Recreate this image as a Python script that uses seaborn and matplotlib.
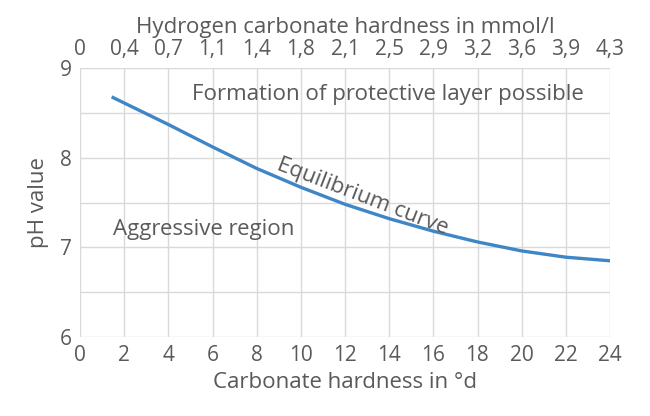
import numpy as np
import pandas as pd
import seaborn as sns
import matplotlib.pyplot as plt

plt.rcParams['font.family'] = 'Open Sans'

# data
kh_deg = [1.5, 4, 6, 8, 10, 12, 14, 16, 18, 20, 22, 24]
ph_value = [8.67, 8.37, 8.12, 7.88, 7.67, 7.48, 7.32, 7.18, 7.06, 6.96, 6.89, 6.85]
bottom_ticks = list(range(0, 25, 2))
top_labels = ['0', '0,4', '0,7', '1,1', '1,4', '1,8', '2,1', '2,5', '2,9', '3,2', '3,6', '3,9', '4,3']

df = pd.DataFrame({'kh': kh_deg, 'ph': ph_value})
grey = '#5a5a5a'

fig = plt.figure(figsize=(6.5, 4.16), dpi=100)
ax = fig.add_axes([80 / 650, 1 - 337 / 416, 530 / 650, 269 / 416])
sns.lineplot(data=df, x='kh', y='ph', ax=ax, color='#3f86c6', linewidth=2.4)

ax.set_xlim(0, 24)
ax.set_ylim(6, 9)
ax.set_xticks(bottom_ticks)
ax.set_yticks([6, 7, 8, 9])
ax.set_yticks(np.arange(6, 9.01, 0.5), minor=True)
ax.grid(True, which='both', color='#d9d9d9', linewidth=1)
ax.tick_params(which='both', length=0, colors=grey, labelsize=15, pad=6)
for s in ax.spines.values():
    s.set_visible(False)
ax.set_xlabel('Carbonate hardness in °d', color=grey, fontsize=16, labelpad=4)
ax.set_ylabel('pH value', color=grey, fontsize=16, labelpad=8)

top = ax.twiny()
top.set_xlim(0, 24)
top.set_xticks(bottom_ticks)
top.set_xticklabels(top_labels)
top.tick_params(length=0, colors=grey, labelsize=15, pad=6)
for s in top.spines.values():
    s.set_visible(False)
top.set_xlabel('Hydrogen carbonate hardness in mmol/l', color=grey, fontsize=16, labelpad=4)

ax.text(22.8, 8.7, 'Formation of protective layer possible', color=grey, fontsize=16,
        ha='right', va='center')
ax.text(1.5, 7.2, 'Aggressive region', color=grey, fontsize=16, va='center')
ax.text(12.8, 7.56, 'Equilibrium curve', color=grey, fontsize=16, ha='center', va='center',
        rotation=-21)

fig.savefig('out.png', dpi=100)
